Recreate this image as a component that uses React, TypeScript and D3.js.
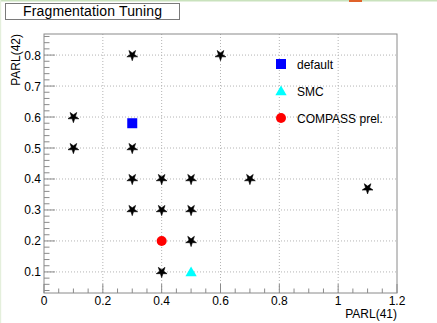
import React from "react";
import * as d3 from "d3";

const starX = [0.3, 0.6, 0.1, 0.1, 0.3, 0.3, 0.4, 0.5, 0.7, 1.1, 0.3, 0.4, 0.5, 0.5, 0.4];
const starY = [0.8, 0.8, 0.6, 0.5, 0.5, 0.4, 0.4, 0.4, 0.4, 0.37, 0.3, 0.3, 0.3, 0.2, 0.1];
const defaultPt = [0.3, 0.58];
const smcPt = [0.5, 0.1];
const compassPt = [0.4, 0.2];
const xTicks = [0, 0.2, 0.4, 0.6, 0.8, 1, 1.2];
const yTicks = [0.1, 0.2, 0.3, 0.4, 0.5, 0.6, 0.7, 0.8];
const legendLabels = ["default", "SMC", "COMPASS prel."];
const title = "Fragmentation Tuning";

const W = 437, H = 323;
const L = 44, R = 397, T = 34, B = 293;
const font = "'Liberation Sans', Arial, Helvetica, sans-serif";

export default function App() {
  const x = d3.scaleLinear().domain([0, 1.2]).range([L, R]);
  const y = d3.scaleLinear().domain([0.032, 0.868]).range([B, T]);
  const star = d3.symbol().type(d3.symbolStar).size(36)()!;
  const tri = d3.symbol().type(d3.symbolTriangle).size(55)()!;
  const xMinor = d3.range(0, 1.2001, 0.05);
  const yMinor = d3.range(0.04, 0.8601, 0.02);
  const grid = "#b4b4b4";
  const axis = "#8a8a8a";
  const legY = [64, 91, 118];

  return (
    <svg width={W} height={H} style={{ position: "absolute", left: 0, top: 0, background: "#fff" }}>
      <rect x={0} y={0} width={W} height={H} fill="#fff" />
      <rect x={0} y={0} width={W} height={1.5} fill="#c9e2bd" />
      <rect x={0} y={0} width={1.2} height={H} fill="#e4efdc" />
      <rect x={349} y={0} width={13} height={2} fill="#e0622a" />
      {/* title box */}
      <rect x={5.5} y={3.5} width={174} height={16} fill="#fff" stroke="#7a7a7a" strokeWidth={1} />
      <text x={92.5} y={16} textAnchor="middle" fontFamily={font} fontSize={14} textLength={139} fill="#000">{title}</text>
      {/* grid */}
      {xTicks.filter(v => v > 0 && v < 1.2).map(v => (
        <line key={"gx" + v} x1={x(v)} x2={x(v)} y1={T} y2={B} stroke={grid} strokeDasharray="1,2" />
      ))}
      {yTicks.map(v => (
        <line key={"gy" + v} x1={L} x2={R} y1={y(v)} y2={y(v)} stroke={grid} strokeDasharray="1,2" />
      ))}
      {/* frame */}
      <rect x={L} y={T} width={R - L} height={B - T} fill="none" stroke={axis} strokeWidth={1} />
      {/* x ticks */}
      {xMinor.map((v, i) => {
        const major = i % 4 === 0;
        return <line key={"xt" + i} x1={x(v)} x2={x(v)} y1={B} y2={B - (major ? 9 : 4.5)} stroke={axis} />;
      })}
      {yMinor.map((v, i) => {
        const major = Math.abs(v * 10 - Math.round(v * 10)) < 1e-6;
        return <line key={"yt" + i} x1={L} x2={L + (major ? 11 : 5.5)} y1={y(v)} y2={y(v)} stroke={axis} />;
      })}
      {xTicks.map(v => (
        <text key={"xl" + v} x={x(v)} y={305} textAnchor="middle" fontFamily={font} fontSize={12} fill="#000">{d3.format("~g")(v)}</text>
      ))}
      {yTicks.map(v => (
        <text key={"yl" + v} x={41} y={y(v) + 4.5} textAnchor="end" fontFamily={font} fontSize={12} fill="#000">{d3.format(".1f")(v)}</text>
      ))}
      <text x={R} y={318} textAnchor="end" fontFamily={font} fontSize={12} fill="#000">PARL(41)</text>
      <text transform={`translate(20,${T}) rotate(-90)`} textAnchor="end" fontFamily={font} fontSize={12} fill="#000">PARL(42)</text>
      {/* stars */}
      {starX.map((v, i) => (
        <path key={"s" + i} d={star} transform={`translate(${x(v)},${y(starY[i])}) rotate(180)`} fill="#000" stroke="#000" strokeWidth={0.6} />
      ))}
      <rect x={x(defaultPt[0]) - 5} y={y(defaultPt[1]) - 5} width={10} height={10} fill="#0000ff" />
      <path d={tri} transform={`translate(${x(smcPt[0])},${y(smcPt[1]) + 1})`} fill="#00ffff" />
      <circle cx={x(compassPt[0])} cy={y(compassPt[1])} r={5} fill="#ff0000" />
      {/* legend */}
      <rect x={276} y={legY[0] - 5} width={10} height={10} fill="#0000ff" />
      <path d={tri} transform={`translate(281,${legY[1] + 1})`} fill="#00ffff" />
      <circle cx={281} cy={legY[2]} r={5} fill="#ff0000" />
      {legendLabels.map((t, i) => (
        <text key={t} x={297} y={legY[i] + 4.5} fontFamily={font} fontSize={12} fill="#000">{t}</text>
      ))}
    </svg>
  );
}
